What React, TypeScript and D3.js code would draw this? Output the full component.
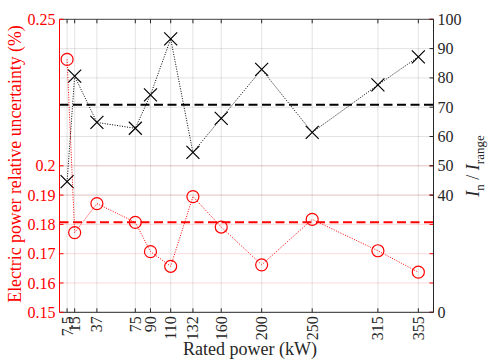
import { useEffect, useRef } from "react";
import * as d3 from "d3";

const ratedPower = [7.5, 15, 37, 75, 90, 110, 132, 160, 200, 250, 315, 355];
const powerUncertainty = [
  0.2363, 0.1772, 0.1871, 0.1807, 0.1707, 0.1657, 0.1895, 0.1791, 0.1662,
  0.1817, 0.171, 0.1637,
];
const currentRatio = [
  44.6, 80.6, 64.8, 62.8, 74.2, 93.3, 54.6, 66.2, 82.9, 61.4, 77.6, 87.2,
];
const leftTicks = [0.15, 0.16, 0.17, 0.18, 0.19, 0.2, 0.25];
const rightTicks = [0, 40, 50, 60, 70, 80, 90, 100];

const RED = "#ff0000";
const FONT = "Liberation Serif";

export default function App() {
  const svgRef = useRef<SVGSVGElement>(null);

  useEffect(() => {
    if (!svgRef.current) return;
    const svg = d3.select(svgRef.current);
    svg.selectAll("*").remove();

    const left = 59.5;
    const right = 433.5;
    const top = 19.3;
    const bottom = 312.3;

    const x = d3.scaleLinear().domain([0, 370]).range([left, right]);
    const yL = d3.scaleLinear().domain([0.15, 0.25]).range([bottom, top]);
    const yR = d3.scaleLinear().domain([0, 100]).range([bottom, top]);

    const g = svg.append("g").attr("font-family", FONT);

    // vertical grid
    g.selectAll("line.vgrid")
      .data(ratedPower)
      .join("line")
      .attr("x1", (d) => x(d))
      .attr("x2", (d) => x(d))
      .attr("y1", top)
      .attr("y2", bottom)
      .attr("stroke", "#262626")
      .attr("stroke-opacity", 0.13);

    // horizontal grid (right axis, gray)
    g.selectAll("line.rgrid")
      .data(rightTicks.filter((t) => t > 0 && t < 100))
      .join("line")
      .attr("x1", left)
      .attr("x2", right)
      .attr("y1", (d) => yR(d))
      .attr("y2", (d) => yR(d))
      .attr("stroke", "#262626")
      .attr("stroke-opacity", 0.13);

    // horizontal grid (left axis, red)
    g.selectAll("line.lgrid")
      .data(leftTicks.filter((t) => t > 0.15 && t < 0.25))
      .join("line")
      .attr("x1", left)
      .attr("x2", right)
      .attr("y1", (d) => yL(d))
      .attr("y2", (d) => yL(d))
      .attr("stroke", RED)
      .attr("stroke-opacity", 0.15);

    // mean lines
    const meanL = d3.mean(powerUncertainty) as number;
    const meanR = d3.mean(currentRatio) as number;
    g.append("line")
      .attr("x1", left)
      .attr("x2", right)
      .attr("y1", yR(meanR))
      .attr("y2", yR(meanR))
      .attr("stroke", "#000")
      .attr("stroke-width", 2)
      .attr("stroke-dasharray", "9,4.5");
    g.append("line")
      .attr("x1", left)
      .attr("x2", right)
      .attr("y1", yL(meanL))
      .attr("y2", yL(meanL))
      .attr("stroke", RED)
      .attr("stroke-width", 2)
      .attr("stroke-dasharray", "9,4.5");

    // black series
    const lineR = d3
      .line<number>()
      .x((_, i) => x(ratedPower[i]))
      .y((d) => yR(d));
    g.append("path")
      .datum(currentRatio)
      .attr("fill", "none")
      .attr("stroke", "#000")
      .attr("stroke-width", 1)
      .attr("stroke-dasharray", "1,1.5")
      .attr("d", lineR);
    const s = 6.5;
    currentRatio.forEach((v, i) => {
      const cx = x(ratedPower[i]);
      const cy = yR(v);
      g.append("path")
        .attr("d", `M${cx - s},${cy - s}L${cx + s},${cy + s}M${cx - s},${cy + s}L${cx + s},${cy - s}`)
        .attr("stroke", "#000")
        .attr("stroke-width", 1.2)
        .attr("fill", "none");
    });

    // red series
    const lineL = d3
      .line<number>()
      .x((_, i) => x(ratedPower[i]))
      .y((d) => yL(d));
    g.append("path")
      .datum(powerUncertainty)
      .attr("fill", "none")
      .attr("stroke", RED)
      .attr("stroke-width", 1)
      .attr("stroke-dasharray", "1,1.5")
      .attr("d", lineL);
    g.selectAll("circle.pu")
      .data(powerUncertainty)
      .join("circle")
      .attr("cx", (_, i) => x(ratedPower[i]))
      .attr("cy", (d) => yL(d))
      .attr("r", 6)
      .attr("fill", "none")
      .attr("stroke", RED)
      .attr("stroke-width", 1.2);

    // box
    g.append("line")
      .attr("x1", left)
      .attr("x2", right)
      .attr("y1", top)
      .attr("y2", top)
      .attr("stroke", "#404040");
    g.append("line")
      .attr("x1", left)
      .attr("x2", right)
      .attr("y1", bottom)
      .attr("y2", bottom)
      .attr("stroke", "#262626");

    // x ticks
    ratedPower.forEach((p) => {
      g.append("line")
        .attr("x1", x(p))
        .attr("x2", x(p))
        .attr("y1", top)
        .attr("y2", top + 4)
        .attr("stroke", "#262626");
      g.append("line")
        .attr("x1", x(p))
        .attr("x2", x(p))
        .attr("y1", bottom)
        .attr("y2", bottom - 4)
        .attr("stroke", "#262626");
    });
    g.selectAll("text.xt")
      .data(ratedPower)
      .join("text")
      .attr("transform", (d) => `translate(${x(d) + 5.5},${bottom + 4}) rotate(-90)`)
      .attr("text-anchor", "end")
      .attr("font-size", 16)
      .attr("fill", "#262626")
      .text((d) => String(d));

    // left axis
    g.append("line")
      .attr("x1", left)
      .attr("x2", left)
      .attr("y1", top)
      .attr("y2", bottom)
      .attr("stroke", RED);
    leftTicks.forEach((t) => {
      g.append("line")
        .attr("x1", left)
        .attr("x2", left + 4)
        .attr("y1", yL(t))
        .attr("y2", yL(t))
        .attr("stroke", RED);
      g.append("line")
        .attr("x1", right)
        .attr("x2", right - 4)
        .attr("y1", yL(t))
        .attr("y2", yL(t))
        .attr("stroke", RED);
      g.append("text")
        .attr("x", left - 4)
        .attr("y", yL(t) + 5.5)
        .attr("text-anchor", "end")
        .attr("font-size", 16)
        .attr("fill", RED)
        .text(String(t));
    });

    // right axis
    g.append("line")
      .attr("x1", right)
      .attr("x2", right)
      .attr("y1", top)
      .attr("y2", bottom)
      .attr("stroke", "#262626");
    rightTicks.forEach((t) => {
      g.append("line")
        .attr("x1", right)
        .attr("x2", right - 4)
        .attr("y1", yR(t))
        .attr("y2", yR(t))
        .attr("stroke", "#262626");
      g.append("text")
        .attr("x", right + 4)
        .attr("y", yR(t) + 5.5)
        .attr("font-size", 16)
        .attr("fill", "#262626")
        .text(String(t));
    });

    // axis titles
    g.append("text")
      .attr("x", 250)
      .attr("y", 355)
      .attr("text-anchor", "middle")
      .attr("font-size", 18)
      .attr("fill", "#262626")
      .text("Rated power (kW)");

    g.append("text")
      .attr("transform", `translate(21,164) rotate(-90)`)
      .attr("text-anchor", "middle")
      .attr("font-size", 17.8)
      .attr("fill", RED)
      .text("Electric power relative uncertainty (%)");

    const rl = g
      .append("text")
      .attr("transform", `translate(479,166) rotate(-90)`)
      .attr("text-anchor", "middle")
      .attr("font-size", 18)
      .attr("fill", "#262626");
    rl.append("tspan").attr("font-style", "italic").text("I");
    rl.append("tspan").attr("font-size", 13).attr("dy", 5).text("n");
    rl.append("tspan").attr("dy", -5).text(" / ");
    rl.append("tspan").attr("font-style", "italic").text("I");
    rl.append("tspan").attr("font-size", 13).attr("dy", 5).text("range");
  }, []);

  return (
    <div style={{ position: "fixed", left: 0, top: 0, width: 491, height: 361, background: "#fff" }}>
      <svg ref={svgRef} width={491} height={361} style={{ display: "block" }} />
    </div>
  );
}
